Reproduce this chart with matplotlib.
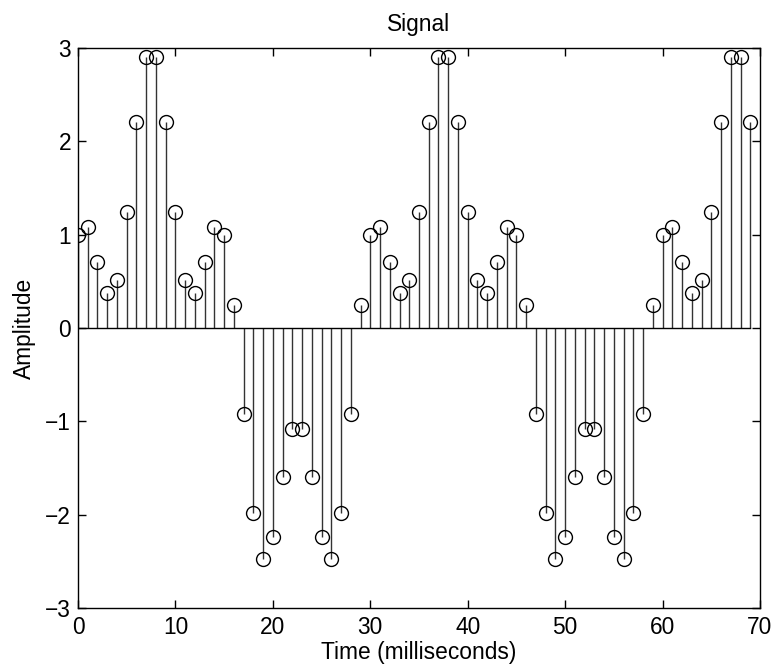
import matplotlib.pyplot as plt
import numpy as np

plt.rcParams['font.family'] = ['Liberation Sans', 'DejaVu Sans']

# time samples (ms) and amplitudes
t = list(range(70))
amp = [1.00, 1.08, 0.71, 0.37, 0.51, 1.24, 2.21, 2.90, 2.90, 2.21,
       1.24, 0.51, 0.37, 0.71, 1.08, 1.00, 0.25, -0.92, -1.98, -2.47,
       -2.24, -1.60, -1.08, -1.08, -1.60, -2.24, -2.47, -1.98, -0.92, 0.25,
       1.00, 1.08, 0.71, 0.37, 0.51, 1.24, 2.21, 2.90, 2.90, 2.21,
       1.24, 0.51, 0.37, 0.71, 1.08, 1.00, 0.25, -0.92, -1.98, -2.47,
       -2.24, -1.60, -1.08, -1.08, -1.60, -2.24, -2.47, -1.98, -0.92, 0.25,
       1.00, 1.08, 0.71, 0.37, 0.51, 1.24, 2.21, 2.90, 2.90, 2.21]

fs = 16.4

fig = plt.figure(figsize=(7.74, 6.69), dpi=100)
ax = fig.add_axes([78/774, 1 - 608/669, (760-78)/774, (608-48)/669])

markerline, stemlines, baseline = ax.stem(t, amp, basefmt='k-')
plt.setp(stemlines, color='#333333', linewidth=1.0)
plt.setp(markerline, marker='o', markersize=10, markerfacecolor='none',
         markeredgecolor='black', markeredgewidth=1.0)
plt.setp(baseline, color='black', linewidth=1.0)

ax.set_xlim(0, 70)
ax.set_ylim(-3, 3)
ax.set_xticks([0, 10, 20, 30, 40, 50, 60, 70])
ax.set_yticks([-3, -2, -1, 0, 1, 2, 3])
ax.set_yticklabels(['\u22123', '\u22122', '\u22121', '0', '1', '2', '3'])
ax.tick_params(direction='in', top=True, right=True, labelsize=fs, length=6, width=1)
ax.tick_params(axis='x', pad=6)
ax.tick_params(axis='y', pad=5)
for s in ax.spines.values():
    s.set_linewidth(1.0)

ax.set_title('Signal', fontsize=fs, pad=12)
ax.set_xlabel('Time (milliseconds)', fontsize=fs, labelpad=1)
ax.set_ylabel('Amplitude', fontsize=fs, labelpad=7)

fig.savefig('out.png', dpi=100)
